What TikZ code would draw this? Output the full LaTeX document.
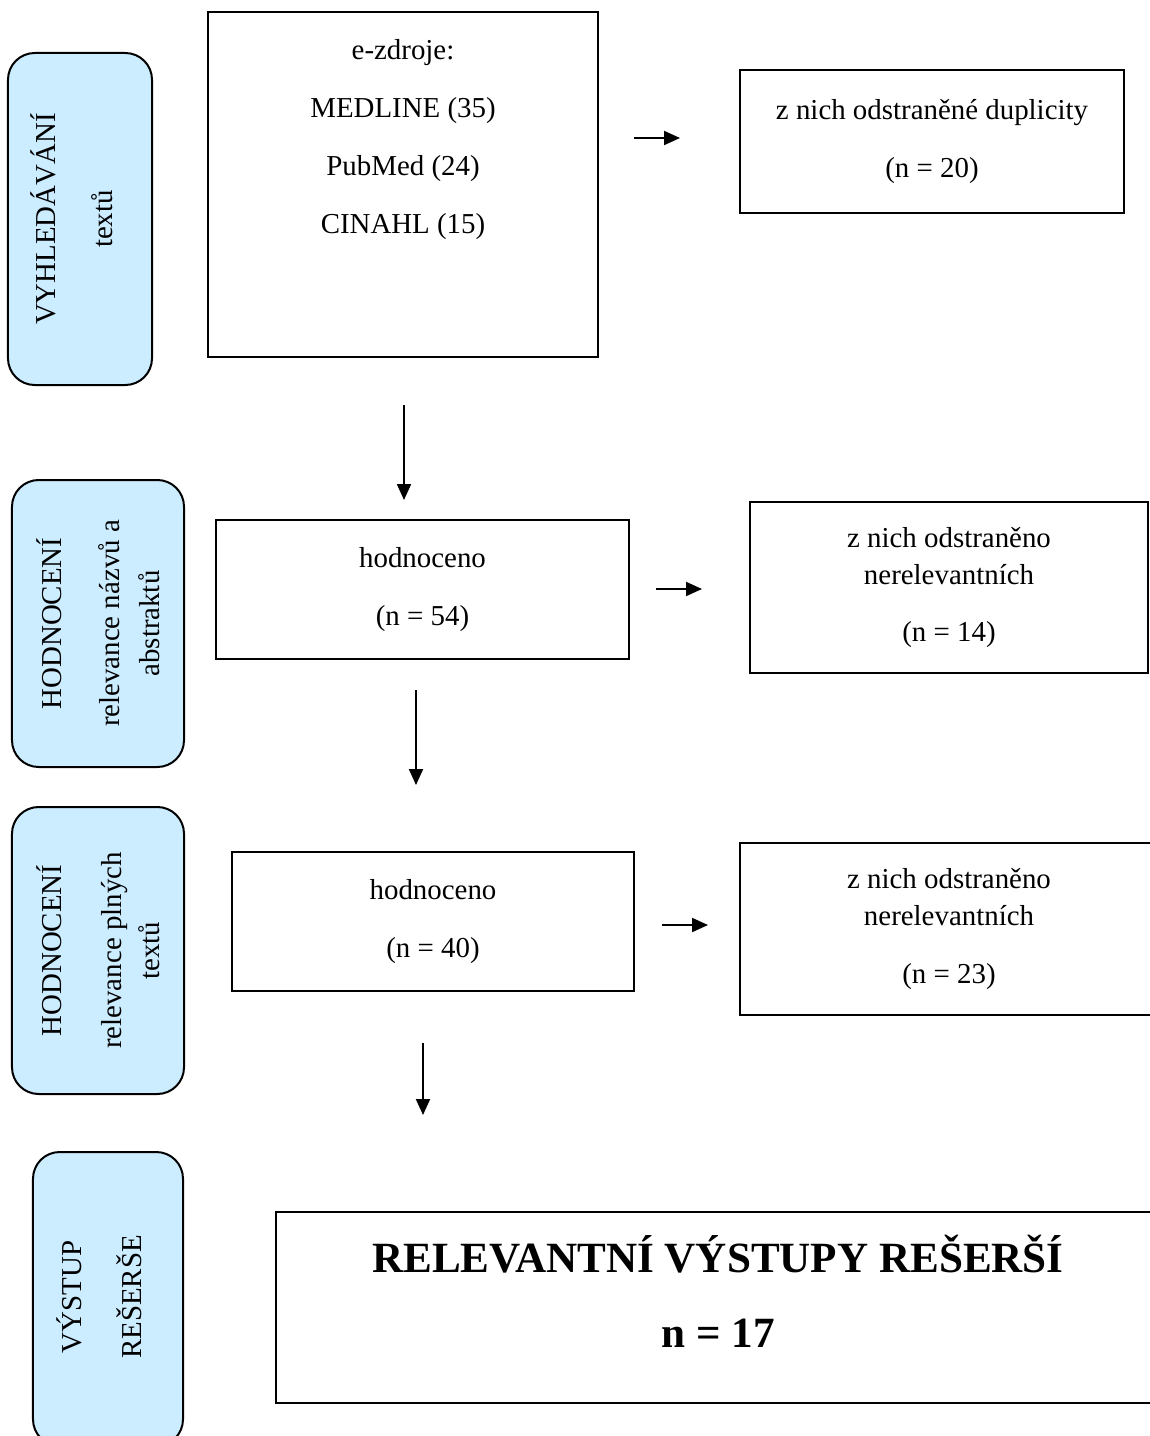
\documentclass[tikz,border=0pt]{standalone}
\usepackage{fontspec}
\setmainfont{Liberation Serif}
\usetikzlibrary{arrows.meta}
\definecolor{sideblue}{RGB}{204,236,255}

\begin{document}
\begin{tikzpicture}[x=0.45pt, y=-0.45pt,
    txt/.style={font=\fontsize{13}{16.6}\selectfont, align=center},
    box/.style={draw, line width=0.9pt, txt, inner sep=0pt},
    phase/.style={draw, line width=0.9pt, fill=sideblue, rounded corners=12pt, rotate=90, txt, inner sep=0pt},
    arr/.style={-{Triangle[length=7.2pt,width=6.3pt]}, line width=0.9pt}]
    \clip (0,0) rectangle (1150,1436);
    \fill[white] (0,0) rectangle (1150,1436);

    \node[phase, minimum width=149.4pt, minimum height=64.8pt] (search) at (80,219) {};
    \node[txt, rotate=90] (searchtext) at (71.5,219) {VYHLEDÁVÁNÍ\\[9pt]textů};
    \node[phase, minimum width=129.15pt, minimum height=77.4pt] (abstr) at (98,623.5) {HODNOCENÍ\\[9.5pt]relevance názvů a\\[1.4pt]abstraktů};
    \node[phase, minimum width=129.15pt, minimum height=77.4pt] (full) at (98,950.5) {HODNOCENÍ\\[10.4pt]relevance plných\\[0.5pt]textů};
    \node[phase, minimum width=132.3pt, minimum height=67.5pt] (out) at (108,1299) {};
    \node[txt, rotate=90] (outtext) at (99,1297) {VÝSTUP\\[10.4pt]REŠERŠE};

    \node[box, minimum width=175.5pt, minimum height=155.25pt] (src) at (403,184.5) {};
    \node[txt] (srctext) at (403,140) {e-zdroje:\\[9.5pt]MEDLINE (35)\\[9.5pt]PubMed (24)\\[9.5pt]CINAHL (15)};
    \node[box, minimum width=172.8pt, minimum height=64.35pt] (dup) at (932,141.5) {z nich odstraněné duplicity\\[9.5pt](n = 20)};

    \node[box, minimum width=185.85pt, minimum height=62.55pt] (eval1) at (422.5,589.5) {hodnoceno\\[9.5pt](n = 54)};
    \node[box, minimum width=179.1pt, minimum height=76.95pt] (rem1) at (949,587.5) {z nich odstraněno\\nerelevantních\\[9pt](n = 14)};

    \node[box, minimum width=180.9pt, minimum height=62.55pt] (eval2) at (433,921.5) {hodnoceno\\[9.5pt](n = 40)};
    \node[box, minimum width=188.1pt, minimum height=77.4pt] (rem2) at (949,929) {z nich odstraněno\\nerelevantních\\[9.5pt](n = 23)};

    \node[box, minimum width=397.8pt, minimum height=85.95pt] (result) at (718,1307.5) {};
    \node[txt, font=\fontsize{19.4}{22}\selectfont\bfseries] (resulttext) at (718,1291) {RELEVANTNÍ VÝSTUPY REŠERŠÍ\\[11.75pt]n = 17};

    % free-standing arrows
    \coordinate (dupfrom) at (634,138);
    \coordinate (dupto) at (680,138);
    \coordinate (down1from) at (404,405);
    \coordinate (down1to) at (404,500);
    \coordinate (rem1from) at (656,589);
    \coordinate (rem1to) at (702,589);
    \coordinate (down2from) at (416,690);
    \coordinate (down2to) at (416,785);
    \coordinate (rem2from) at (662,925);
    \coordinate (rem2to) at (708,925);
    \coordinate (down3from) at (423,1043);
    \coordinate (down3to) at (423,1115);

    \draw[arr] (dupfrom) -- (dupto);
    \draw[arr] (down1from) -- (down1to);
    \draw[arr] (rem1from) -- (rem1to);
    \draw[arr] (down2from) -- (down2to);
    \draw[arr] (rem2from) -- (rem2to);
    \draw[arr] (down3from) -- (down3to);
\end{tikzpicture}
\end{document}
